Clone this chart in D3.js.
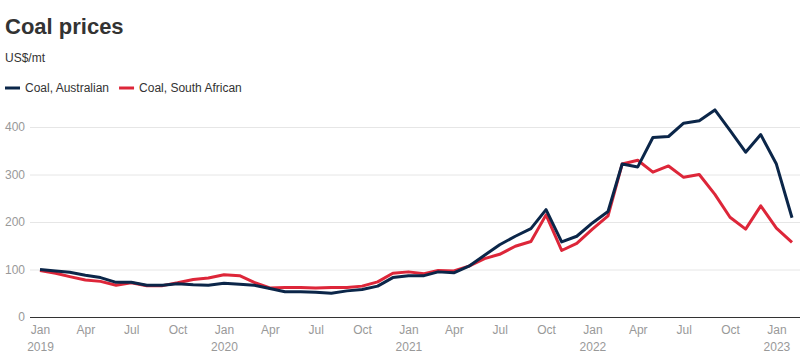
<!DOCTYPE html>
<html><head><meta charset="utf-8">
<script src="https://cdn.jsdelivr.net/npm/d3@7"></script>
<style>
body{margin:0;background:#fff;font-family:"Liberation Sans",Arial,sans-serif;}
</style></head><body>
<svg id="c" width="809" height="364"></svg>
<script>
const startYear = 2019, startMonth = 0;
const australian = [100,97,94,88,83,73,73,67,67,70,68,67,71,69,67,60,53,53,52,50,55,58,65,83,87,87,95,93,107,130,152,170,186,226,158,170,198,222,322,316,378,380,408,413,436,393,347,384,322,209];
const southAfrican = [98,92,85,78,75,67,72,66,66,72,79,82,89,87,73,61,62,62,61,62,62,65,74,92,95,91,98,97,107,123,132,149,159,215,140,155,185,213,322,330,305,318,294,300,258,210,185,234,187,157];
const yTicks = [0,100,200,300,400];
const monthNames = ["Jan","Apr","Jul","Oct"];
const seriesNames = ["Coal, Australian","Coal, South African"];
const colors = ["#0b2649","#dd2639"];

const svg = d3.select("#c");
const dates = australian.map((_, i) => new Date(startYear, startMonth + i, 1));
const x = d3.scaleTime().domain([new Date(2019,0,1), new Date(2023,1,1)]).range([40, 792]);
const y = d3.scaleLinear().domain([0,400]).range([317,127]);

svg.append("text").attr("x",5).attr("y",34).attr("font-size",22).attr("font-weight","bold").attr("fill","#333").text("Coal prices");
svg.append("text").attr("x",5).attr("y",62).attr("font-size",12).attr("fill","#333").text("US$/mt");

// legend
const leg = svg.append("g");
let lx = 5;
seriesNames.forEach((n,i)=>{
  leg.append("line").attr("x1",lx).attr("x2",lx+15).attr("y1",88).attr("y2",88).attr("stroke",colors[i]).attr("stroke-width",3);
  const t = leg.append("text").attr("x",lx+20).attr("y",92).attr("font-size",12).attr("fill","#333").text(n);
  lx += 20 + t.node().getComputedTextLength() + 10;
});

// grid
const yAxis = d3.axisLeft(y).tickValues(yTicks).tickSize(-770).tickPadding(5);
const gy = svg.append("g").attr("transform","translate(30,0)").call(yAxis);
gy.select(".domain").remove();
gy.selectAll(".tick line").attr("stroke","#e6e6e6");
gy.selectAll(".tick text").attr("fill","#999").attr("font-size",12).attr("font-family","Liberation Sans, Arial, sans-serif");
gy.selectAll(".tick").filter(d=>d===0).select("line").attr("stroke","#333");

// x axis
const xTicks = d3.range(0, 50, 3).map(i => new Date(startYear, i, 1));
const xAxis = d3.axisBottom(x).tickValues(xTicks).tickSize(0).tickPadding(8).tickFormat(d=>monthNames[d.getMonth()/3]);
const gx = svg.append("g").attr("transform","translate(0,317)").call(xAxis);
gx.select(".domain").remove();
gx.selectAll(".tick text").attr("fill","#999").attr("font-size",12).attr("font-family","Liberation Sans, Arial, sans-serif");
gx.selectAll(".tick").filter(d=>d.getMonth()===0).append("text")
  .attr("y",34).attr("fill","#999").attr("font-size",12).attr("text-anchor","middle")
  .attr("font-family","Liberation Sans, Arial, sans-serif").text(d=>d.getFullYear());

const line = d3.line().x((d,i)=>x(dates[i])).y(d=>y(d));
[southAfrican, australian].forEach((s,k)=>{
  svg.append("path").datum(s).attr("d",line).attr("fill","none")
    .attr("stroke", k===0?colors[1]:colors[0]).attr("stroke-width",3).attr("stroke-linejoin","round");
});
</script></body></html>
